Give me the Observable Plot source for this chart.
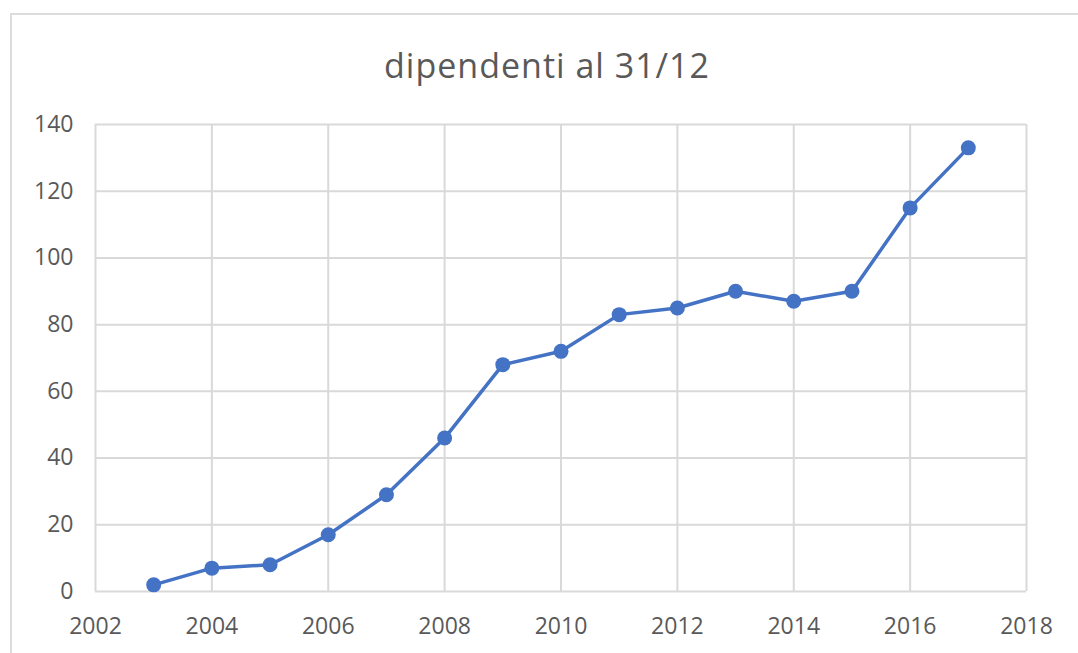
<!DOCTYPE html>
<html>
<head>
<meta charset="utf-8">
<script src="https://cdn.jsdelivr.net/npm/d3@7"></script>
<script src="https://cdn.jsdelivr.net/npm/@observablehq/plot@0.6"></script>
<style>
  html, body { margin: 0; padding: 0; background: #fff; }
  #wrap { position: relative; width: 1078px; height: 653px; overflow: hidden; }
  #frame { position: absolute; left: 10px; top: 13px; width: 1100px; height: 700px;
           border-top: 2px solid #dcdcdc; border-left: 2px solid #dcdcdc; box-sizing: border-box; }
  #header { position: relative; height: 100px; }
  #title { position: absolute; left: 0; top: 44px; width: 1078px; padding-left: 16px; box-sizing: border-box;
           text-align: center; font-family: "Open Sans", sans-serif; font-size: 34px; letter-spacing: 1px;
           line-height: 42px; color: #595959; }
  #chart { position: relative; }
</style>
</head>
<body>
<div id="wrap">
  <div id="frame"></div>
  <div id="header"><div id="title">dipendenti al 31/12</div></div>
  <div id="chart"></div>
</div>
<script>
const years = [2003, 2004, 2005, 2006, 2007, 2008, 2009, 2010, 2011, 2012, 2013, 2014, 2015, 2016, 2017];
const dipendenti = [2, 7, 8, 17, 29, 46, 68, 72, 83, 85, 90, 87, 90, 115, 133];
const xTicks = [2002, 2004, 2006, 2008, 2010, 2012, 2014, 2016, 2018];
const yTicks = [0, 20, 40, 60, 80, 100, 120, 140];

const data = years.map((y, i) => ({ year: y, value: dipendenti[i] }));

const chart = Plot.plot({
  width: 1078,
  height: 553,
  marginTop: 24,
  marginBottom: 62,
  marginLeft: 95,
  marginRight: 52,
  style: { fontFamily: "'Open Sans', sans-serif", fontSize: "23px", color: "#595959", background: "transparent" },
  x: { domain: [2002, 2018], ticks: xTicks, tickFormat: d => String(d), label: null },
  y: { domain: [0, 140], ticks: yTicks, label: null },
  marks: [
    Plot.gridX(xTicks, { stroke: "#d9d9d9", strokeOpacity: 1, strokeWidth: 2 }),
    Plot.gridY(yTicks, { stroke: "#d9d9d9", strokeOpacity: 1, strokeWidth: 2 }),
    Plot.axisX(xTicks, { tickSize: 0, tickPadding: 26, tickFormat: d => String(d), fill: "#595959", label: null }),
    Plot.axisY(yTicks, { tickSize: 0, tickPadding: 22, fill: "#595959", label: null }),
    Plot.line(data, { x: "year", y: "value", stroke: "#4472C4", strokeWidth: 3.5 }),
    Plot.dot(data, { x: "year", y: "value", r: 7.5, fill: "#4472C4", stroke: "none" })
  ]
});
document.getElementById("chart").appendChild(chart);
</script>
</body>
</html>
